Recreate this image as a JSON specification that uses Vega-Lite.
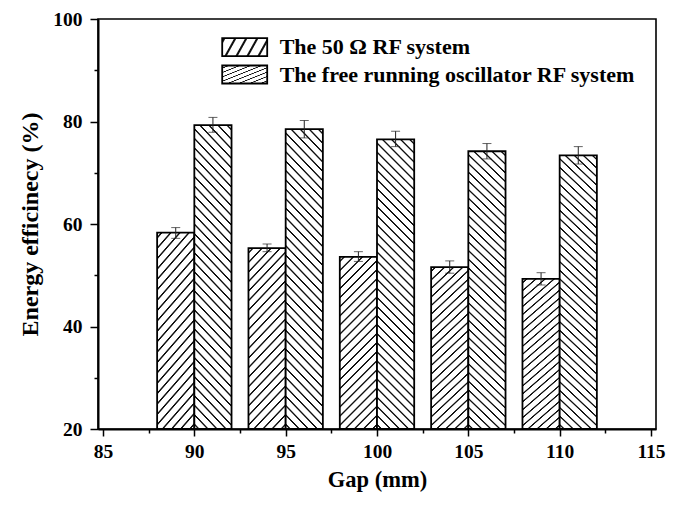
{
"$schema": "https://vega.github.io/schema/vega-lite/v6.json",
"width": 558,
"height": 410,
"autosize": {"type": "none"},
"padding": {"left": 98, "top": 19, "right": 30, "bottom": 76},
"background": "#ffffff",
"config": {
  "font": "Liberation Serif",
  "view": {"stroke": "#000", "strokeWidth": 1.6},
  "axis": {"grid": false, "domainColor": "#000", "domainWidth": 2, "tickColor": "#000", "tickWidth": 1.5, "labelColor": "#000", "labelFont": "Liberation Serif", "labelFontWeight": "bold", "labelFontSize": 19.5, "titleColor": "#000", "titleFont": "Liberation Serif", "titleFontWeight": "bold", "labelFlush": false, "labelOverlap": false},
  "legend": {"title": null, "orient": "none", "direction": "vertical", "padding": 0, "labelOffset": 37.5, "labelFont": "Liberation Serif", "labelFontSize": 22, "labelFontWeight": "bold", "labelColor": "#000", "labelLimit": 600, "symbolType": "M-1,-1H4V1H-1Z", "symbolSize": 324, "symbolStrokeWidth": 1.8, "symbolStrokeColor": "#000"}
},
"resolve": {"scale": {"stroke": "independent"}, "legend": {"stroke": "independent"}},
"data": {"values": [
  {"gap": 90, "series": "The 50 Ω RF system", "eff": 58.3, "lo": 57.2, "hi": 59.3},
  {"gap": 95, "series": "The 50 Ω RF system", "eff": 55.3, "lo": 54.6, "hi": 56.1},
  {"gap": 100, "series": "The 50 Ω RF system", "eff": 53.6, "lo": 52.7, "hi": 54.6},
  {"gap": 105, "series": "The 50 Ω RF system", "eff": 51.6, "lo": 50.4, "hi": 52.8},
  {"gap": 110, "series": "The 50 Ω RF system", "eff": 49.3, "lo": 48.1, "hi": 50.5},
  {"gap": 90, "series": "The free running oscillator RF system", "eff": 79.3, "lo": 77.9, "hi": 80.8},
  {"gap": 95, "series": "The free running oscillator RF system", "eff": 78.5, "lo": 76.8, "hi": 80.2},
  {"gap": 100, "series": "The free running oscillator RF system", "eff": 76.5, "lo": 75.1, "hi": 78.1},
  {"gap": 105, "series": "The free running oscillator RF system", "eff": 74.2, "lo": 72.7, "hi": 75.7},
  {"gap": 110, "series": "The free running oscillator RF system", "eff": 73.4, "lo": 71.7, "hi": 75.1}
]},
"layer": [
  {
    "transform": [{"filter": {"field": "series", "equal": "The 50 Ω RF system"}}],
    "layer": [
      {
        "mark": {"type": "bar", "strokeWidth": 1.8, "width": 37.2, "xOffset": -18.6,
          "fill": {"gradient": "linear", "x1": 0, "y1": 0, "x2": 0.2513, "y2": 1.1619, "stops": [
{"offset":0.0149,"color":"#fff"},{"offset":0.0192,"color":"#111"},{"offset":0.0242,"color":"#111"},{"offset":0.0285,"color":"#fff"},
{"offset":0.0584,"color":"#fff"},{"offset":0.0627,"color":"#111"},{"offset":0.0677,"color":"#111"},{"offset":0.0720,"color":"#fff"},
{"offset":0.1019,"color":"#fff"},{"offset":0.1062,"color":"#111"},{"offset":0.1112,"color":"#111"},{"offset":0.1155,"color":"#fff"},
{"offset":0.1454,"color":"#fff"},{"offset":0.1497,"color":"#111"},{"offset":0.1547,"color":"#111"},{"offset":0.1590,"color":"#fff"},
{"offset":0.1889,"color":"#fff"},{"offset":0.1932,"color":"#111"},{"offset":0.1982,"color":"#111"},{"offset":0.2025,"color":"#fff"},
{"offset":0.2323,"color":"#fff"},{"offset":0.2366,"color":"#111"},{"offset":0.2416,"color":"#111"},{"offset":0.2459,"color":"#fff"},
{"offset":0.2758,"color":"#fff"},{"offset":0.2801,"color":"#111"},{"offset":0.2851,"color":"#111"},{"offset":0.2894,"color":"#fff"},
{"offset":0.3193,"color":"#fff"},{"offset":0.3236,"color":"#111"},{"offset":0.3286,"color":"#111"},{"offset":0.3329,"color":"#fff"},
{"offset":0.3628,"color":"#fff"},{"offset":0.3671,"color":"#111"},{"offset":0.3721,"color":"#111"},{"offset":0.3764,"color":"#fff"},
{"offset":0.4062,"color":"#fff"},{"offset":0.4105,"color":"#111"},{"offset":0.4155,"color":"#111"},{"offset":0.4198,"color":"#fff"},
{"offset":0.4497,"color":"#fff"},{"offset":0.4540,"color":"#111"},{"offset":0.4590,"color":"#111"},{"offset":0.4633,"color":"#fff"},
{"offset":0.4932,"color":"#fff"},{"offset":0.4975,"color":"#111"},{"offset":0.5025,"color":"#111"},{"offset":0.5068,"color":"#fff"},
{"offset":0.5367,"color":"#fff"},{"offset":0.5410,"color":"#111"},{"offset":0.5460,"color":"#111"},{"offset":0.5503,"color":"#fff"},
{"offset":0.5802,"color":"#fff"},{"offset":0.5845,"color":"#111"},{"offset":0.5895,"color":"#111"},{"offset":0.5938,"color":"#fff"},
{"offset":0.6236,"color":"#fff"},{"offset":0.6279,"color":"#111"},{"offset":0.6329,"color":"#111"},{"offset":0.6372,"color":"#fff"},
{"offset":0.6671,"color":"#fff"},{"offset":0.6714,"color":"#111"},{"offset":0.6764,"color":"#111"},{"offset":0.6807,"color":"#fff"},
{"offset":0.7106,"color":"#fff"},{"offset":0.7149,"color":"#111"},{"offset":0.7199,"color":"#111"},{"offset":0.7242,"color":"#fff"},
{"offset":0.7541,"color":"#fff"},{"offset":0.7584,"color":"#111"},{"offset":0.7634,"color":"#111"},{"offset":0.7677,"color":"#fff"},
{"offset":0.7976,"color":"#fff"},{"offset":0.8019,"color":"#111"},{"offset":0.8069,"color":"#111"},{"offset":0.8112,"color":"#fff"},
{"offset":0.8410,"color":"#fff"},{"offset":0.8453,"color":"#111"},{"offset":0.8503,"color":"#111"},{"offset":0.8546,"color":"#fff"},
{"offset":0.8845,"color":"#fff"},{"offset":0.8888,"color":"#111"},{"offset":0.8938,"color":"#111"},{"offset":0.8981,"color":"#fff"},
{"offset":0.9280,"color":"#fff"},{"offset":0.9323,"color":"#111"},{"offset":0.9373,"color":"#111"},{"offset":0.9416,"color":"#fff"},
{"offset":0.9715,"color":"#fff"},{"offset":0.9758,"color":"#111"},{"offset":0.9808,"color":"#111"},{"offset":0.9851,"color":"#fff"}
          ]}
        },
        "encoding": {
          "x": {"field": "gap", "type": "quantitative", "scale": {"domain": [85, 115], "nice": false, "zero": false},
            "axis": {"title": "Gap (mm)", "values": [85, 87.5, 90, 92.5, 95, 97.5, 100, 102.5, 105, 107.5, 110, 112.5, 115],
              "labelExpr": "datum.value % 5 === 0 ? datum.label : ''",
              "tickSize": {"condition": {"test": "datum.value % 5 !== 0", "value": 4}, "value": 7},
              "labelPadding": 6, "titleFontSize": 22.5, "titlePadding": 8}},
          "y": {"field": "eff", "type": "quantitative", "scale": {"domain": [20, 100], "nice": false, "zero": false},
            "axis": {"title": "Energy efficinecy (%)", "values": [20, 30, 40, 50, 60, 70, 80, 90, 100],
              "labelExpr": "datum.value % 20 === 0 ? datum.label : ''",
              "tickSize": {"condition": {"test": "datum.value % 20 !== 0", "value": 4}, "value": 8},
              "labelPadding": 8, "titleFontSize": 24, "titlePadding": 10}},
          "y2": {"datum": 20},
          "stroke": {"field": "series", "type": "nominal",
            "scale": {"domain": ["The 50 Ω RF system"], "range": ["#000"]},
            "legend": {"legendX": 122.2, "legendY": 17.2,
              "encode": {"symbols": {
                "stroke": {"value": "#000"}, "strokeWidth": {"value": 1.8}, "opacity": {"value": 1}, "fillOpacity": {"value": 1},
                "fill": {"value": {"gradient": "linear", "x1": 0, "y1": 0, "x2": 1.2069, "y2": 0.4828, "stops": [
{"offset":0.0608,"color":"#fff"},{"offset":0.0748,"color":"#111"},{"offset":0.0918,"color":"#111"},{"offset":0.1058,"color":"#fff"},
{"offset":0.2275,"color":"#fff"},{"offset":0.2415,"color":"#111"},{"offset":0.2585,"color":"#111"},{"offset":0.2725,"color":"#fff"},
{"offset":0.3942,"color":"#fff"},{"offset":0.4082,"color":"#111"},{"offset":0.4252,"color":"#111"},{"offset":0.4392,"color":"#fff"},
{"offset":0.5608,"color":"#fff"},{"offset":0.5748,"color":"#111"},{"offset":0.5918,"color":"#111"},{"offset":0.6058,"color":"#fff"},
{"offset":0.7275,"color":"#fff"},{"offset":0.7415,"color":"#111"},{"offset":0.7585,"color":"#111"},{"offset":0.7725,"color":"#fff"},
{"offset":0.8942,"color":"#fff"},{"offset":0.9082,"color":"#111"},{"offset":0.9252,"color":"#111"},{"offset":0.9392,"color":"#fff"}
                ]}}
              }}
            }
          }
        }
      },
      {
        "mark": {"type": "rule", "color": "#222", "strokeWidth": 1, "xOffset": -18.6},
        "encoding": {"x": {"field": "gap", "type": "quantitative"}, "y": {"field": "lo", "type": "quantitative"}, "y2": {"field": "hi"}}
      },
      {
        "mark": {"type": "tick", "orient": "horizontal", "color": "#222", "size": 9, "thickness": 1, "xOffset": -18.6},
        "encoding": {"x": {"field": "gap", "type": "quantitative"}, "y": {"field": "lo", "type": "quantitative"}}
      },
      {
        "mark": {"type": "tick", "orient": "horizontal", "color": "#222", "size": 9, "thickness": 1, "xOffset": -18.6},
        "encoding": {"x": {"field": "gap", "type": "quantitative"}, "y": {"field": "hi", "type": "quantitative"}}
      }
    ]
  },
  {
    "transform": [{"filter": {"field": "series", "equal": "The free running oscillator RF system"}}],
    "layer": [
      {
        "mark": {"type": "bar", "strokeWidth": 1.8, "width": 37.2, "xOffset": 18.6,
          "fill": {"gradient": "linear", "x1": 0, "y1": 1, "x2": 0.14292, "y2": -0.11034, "stops": [
{"offset":0.0096,"color":"#fff"},{"offset":0.0123,"color":"#111"},{"offset":0.0155,"color":"#111"},{"offset":0.0182,"color":"#fff"},
{"offset":0.0374,"color":"#fff"},{"offset":0.0401,"color":"#111"},{"offset":0.0433,"color":"#111"},{"offset":0.0460,"color":"#fff"},
{"offset":0.0651,"color":"#fff"},{"offset":0.0678,"color":"#111"},{"offset":0.0710,"color":"#111"},{"offset":0.0737,"color":"#fff"},
{"offset":0.0929,"color":"#fff"},{"offset":0.0956,"color":"#111"},{"offset":0.0988,"color":"#111"},{"offset":0.1015,"color":"#fff"},
{"offset":0.1207,"color":"#fff"},{"offset":0.1234,"color":"#111"},{"offset":0.1266,"color":"#111"},{"offset":0.1293,"color":"#fff"},
{"offset":0.1485,"color":"#fff"},{"offset":0.1512,"color":"#111"},{"offset":0.1544,"color":"#111"},{"offset":0.1571,"color":"#fff"},
{"offset":0.1763,"color":"#fff"},{"offset":0.1790,"color":"#111"},{"offset":0.1822,"color":"#111"},{"offset":0.1849,"color":"#fff"},
{"offset":0.2040,"color":"#fff"},{"offset":0.2067,"color":"#111"},{"offset":0.2099,"color":"#111"},{"offset":0.2126,"color":"#fff"},
{"offset":0.2318,"color":"#fff"},{"offset":0.2345,"color":"#111"},{"offset":0.2377,"color":"#111"},{"offset":0.2404,"color":"#fff"},
{"offset":0.2596,"color":"#fff"},{"offset":0.2623,"color":"#111"},{"offset":0.2655,"color":"#111"},{"offset":0.2682,"color":"#fff"},
{"offset":0.2874,"color":"#fff"},{"offset":0.2901,"color":"#111"},{"offset":0.2933,"color":"#111"},{"offset":0.2960,"color":"#fff"},
{"offset":0.3151,"color":"#fff"},{"offset":0.3178,"color":"#111"},{"offset":0.3210,"color":"#111"},{"offset":0.3237,"color":"#fff"},
{"offset":0.3429,"color":"#fff"},{"offset":0.3456,"color":"#111"},{"offset":0.3488,"color":"#111"},{"offset":0.3515,"color":"#fff"},
{"offset":0.3707,"color":"#fff"},{"offset":0.3734,"color":"#111"},{"offset":0.3766,"color":"#111"},{"offset":0.3793,"color":"#fff"},
{"offset":0.3985,"color":"#fff"},{"offset":0.4012,"color":"#111"},{"offset":0.4044,"color":"#111"},{"offset":0.4071,"color":"#fff"},
{"offset":0.4263,"color":"#fff"},{"offset":0.4290,"color":"#111"},{"offset":0.4322,"color":"#111"},{"offset":0.4349,"color":"#fff"},
{"offset":0.4540,"color":"#fff"},{"offset":0.4567,"color":"#111"},{"offset":0.4599,"color":"#111"},{"offset":0.4626,"color":"#fff"},
{"offset":0.4818,"color":"#fff"},{"offset":0.4845,"color":"#111"},{"offset":0.4877,"color":"#111"},{"offset":0.4904,"color":"#fff"},
{"offset":0.5096,"color":"#fff"},{"offset":0.5123,"color":"#111"},{"offset":0.5155,"color":"#111"},{"offset":0.5182,"color":"#fff"},
{"offset":0.5374,"color":"#fff"},{"offset":0.5401,"color":"#111"},{"offset":0.5433,"color":"#111"},{"offset":0.5460,"color":"#fff"},
{"offset":0.5651,"color":"#fff"},{"offset":0.5678,"color":"#111"},{"offset":0.5710,"color":"#111"},{"offset":0.5737,"color":"#fff"},
{"offset":0.5929,"color":"#fff"},{"offset":0.5956,"color":"#111"},{"offset":0.5988,"color":"#111"},{"offset":0.6015,"color":"#fff"},
{"offset":0.6207,"color":"#fff"},{"offset":0.6234,"color":"#111"},{"offset":0.6266,"color":"#111"},{"offset":0.6293,"color":"#fff"},
{"offset":0.6485,"color":"#fff"},{"offset":0.6512,"color":"#111"},{"offset":0.6544,"color":"#111"},{"offset":0.6571,"color":"#fff"},
{"offset":0.6763,"color":"#fff"},{"offset":0.6790,"color":"#111"},{"offset":0.6822,"color":"#111"},{"offset":0.6849,"color":"#fff"},
{"offset":0.7040,"color":"#fff"},{"offset":0.7067,"color":"#111"},{"offset":0.7099,"color":"#111"},{"offset":0.7126,"color":"#fff"},
{"offset":0.7318,"color":"#fff"},{"offset":0.7345,"color":"#111"},{"offset":0.7377,"color":"#111"},{"offset":0.7404,"color":"#fff"},
{"offset":0.7596,"color":"#fff"},{"offset":0.7623,"color":"#111"},{"offset":0.7655,"color":"#111"},{"offset":0.7682,"color":"#fff"},
{"offset":0.7874,"color":"#fff"},{"offset":0.7901,"color":"#111"},{"offset":0.7933,"color":"#111"},{"offset":0.7960,"color":"#fff"},
{"offset":0.8151,"color":"#fff"},{"offset":0.8178,"color":"#111"},{"offset":0.8210,"color":"#111"},{"offset":0.8237,"color":"#fff"},
{"offset":0.8429,"color":"#fff"},{"offset":0.8456,"color":"#111"},{"offset":0.8488,"color":"#111"},{"offset":0.8515,"color":"#fff"},
{"offset":0.8707,"color":"#fff"},{"offset":0.8734,"color":"#111"},{"offset":0.8766,"color":"#111"},{"offset":0.8793,"color":"#fff"},
{"offset":0.8985,"color":"#fff"},{"offset":0.9012,"color":"#111"},{"offset":0.9044,"color":"#111"},{"offset":0.9071,"color":"#fff"},
{"offset":0.9263,"color":"#fff"},{"offset":0.9290,"color":"#111"},{"offset":0.9322,"color":"#111"},{"offset":0.9349,"color":"#fff"},
{"offset":0.9540,"color":"#fff"},{"offset":0.9567,"color":"#111"},{"offset":0.9599,"color":"#111"},{"offset":0.9626,"color":"#fff"},
{"offset":0.9818,"color":"#fff"},{"offset":0.9845,"color":"#111"},{"offset":0.9877,"color":"#111"},{"offset":0.9904,"color":"#fff"}
          ]}
        },
        "encoding": {
          "x": {"field": "gap", "type": "quantitative"},
          "y": {"field": "eff", "type": "quantitative"},
          "y2": {"datum": 20},
          "stroke": {"field": "series", "type": "nominal",
            "scale": {"domain": ["The free running oscillator RF system"], "range": ["#000"]},
            "legend": {"legendX": 122.2, "legendY": 44.5,
              "encode": {"symbols": {
                "stroke": {"value": "#000"}, "strokeWidth": {"value": 1.8}, "opacity": {"value": 1}, "fillOpacity": {"value": 1},
                "fill": {"value": {"gradient": "linear", "x1": 0, "y1": 1, "x2": 1.2069, "y2": 0.5172, "stops": [
{"offset":0.0608,"color":"#fff"},{"offset":0.0748,"color":"#111"},{"offset":0.0918,"color":"#111"},{"offset":0.1058,"color":"#fff"},
{"offset":0.2275,"color":"#fff"},{"offset":0.2415,"color":"#111"},{"offset":0.2585,"color":"#111"},{"offset":0.2725,"color":"#fff"},
{"offset":0.3942,"color":"#fff"},{"offset":0.4082,"color":"#111"},{"offset":0.4252,"color":"#111"},{"offset":0.4392,"color":"#fff"},
{"offset":0.5608,"color":"#fff"},{"offset":0.5748,"color":"#111"},{"offset":0.5918,"color":"#111"},{"offset":0.6058,"color":"#fff"},
{"offset":0.7275,"color":"#fff"},{"offset":0.7415,"color":"#111"},{"offset":0.7585,"color":"#111"},{"offset":0.7725,"color":"#fff"},
{"offset":0.8942,"color":"#fff"},{"offset":0.9082,"color":"#111"},{"offset":0.9252,"color":"#111"},{"offset":0.9392,"color":"#fff"}
                ]}}
              }}
            }
          }
        }
      },
      {
        "mark": {"type": "rule", "color": "#222", "strokeWidth": 1, "xOffset": 18.6},
        "encoding": {"x": {"field": "gap", "type": "quantitative"}, "y": {"field": "lo", "type": "quantitative"}, "y2": {"field": "hi"}}
      },
      {
        "mark": {"type": "tick", "orient": "horizontal", "color": "#222", "size": 9, "thickness": 1, "xOffset": 18.6},
        "encoding": {"x": {"field": "gap", "type": "quantitative"}, "y": {"field": "lo", "type": "quantitative"}}
      },
      {
        "mark": {"type": "tick", "orient": "horizontal", "color": "#222", "size": 9, "thickness": 1, "xOffset": 18.6},
        "encoding": {"x": {"field": "gap", "type": "quantitative"}, "y": {"field": "hi", "type": "quantitative"}}
      }
    ]
  }
]
}
